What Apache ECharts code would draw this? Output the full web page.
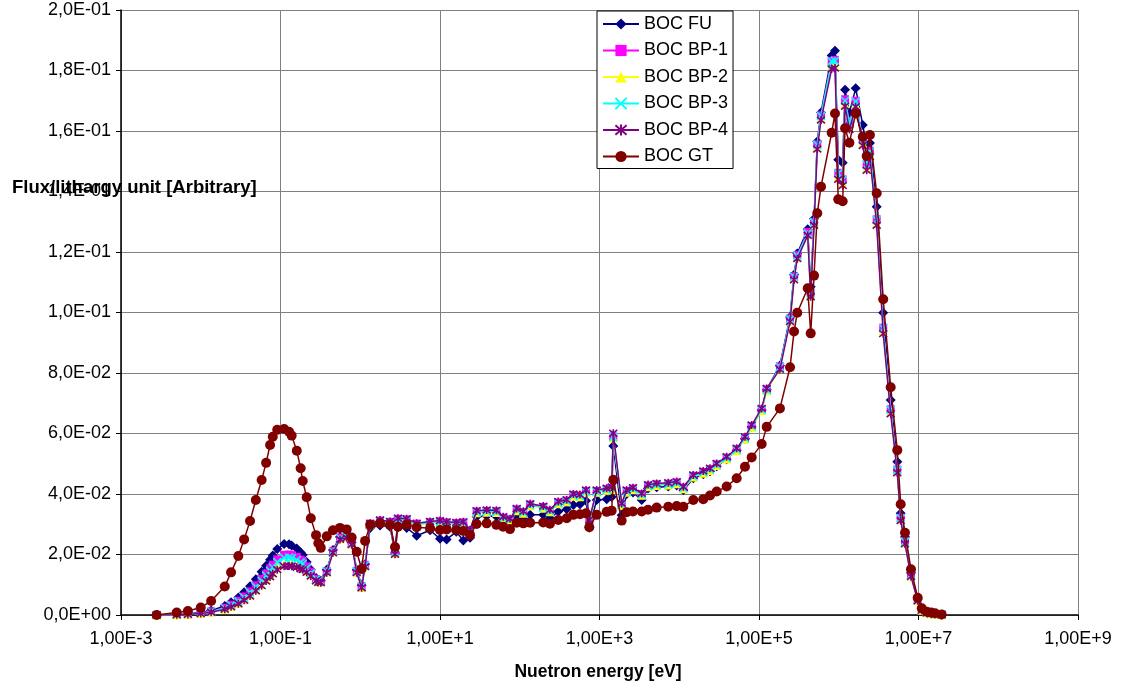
<!DOCTYPE html>
<html>
<head>
<meta charset="utf-8">
<script src="https://cdn.jsdelivr.net/npm/echarts@6/dist/echarts.min.js"></script>
<style>
html,body{margin:0;padding:0;background:#fff;}
#chart{width:1122px;height:688px;}
</style>
</head>
<body>
<div id="chart"></div>
<script>
// Neutron energy group points [eV]
const energy = [
  2.8e-3, 5.0e-3, 6.9e-3, 1.0e-2, 1.35e-2, 2.0e-2, 2.4e-2, 2.96e-2, 3.5e-2, 4.15e-2,
  4.9e-2, 5.8e-2, 6.6e-2, 7.4e-2, 8.0e-2, 9.1e-2, 0.111, 0.128, 0.138, 0.16,
  0.179, 0.19, 0.213, 0.24, 0.279, 0.298, 0.32, 0.38, 0.455, 0.557,
  0.676, 0.78, 0.903, 1.04, 1.15, 1.33, 1.77, 2.36, 2.73, 2.97,
  3.82, 5.1, 7.5, 10, 12.1, 16, 19.6, 23.8, 28.8, 38.5,
  51, 62, 75.5, 91.6, 111, 135, 197, 239, 304, 388,
  470, 569, 678, 745, 922, 1231, 1420, 1489, 1897, 2193,
  2630, 3380, 4060, 5210, 7290, 9290, 11250, 15000, 20000, 24300,
  29500, 39300, 52500, 66700, 80900, 108000, 125000, 183000, 245000, 275000,
  302000, 408000, 445000, 490000, 538000, 599000, 815000, 897000, 986000, 1.12e6,
  1.2e6, 1.36e6, 1.63e6, 2.0e6, 2.24e6, 2.46e6, 2.99e6, 3.61e6, 4.48e6, 5.42e6,
  5.98e6, 6.77e6, 8.05e6, 9.77e6, 1.1e7, 1.27e7, 1.44e7, 1.61e7, 1.95e7
];

const bocFU = [
  0.0000, 0.0002, 0.0004, 0.0008, 0.0015, 0.0030, 0.0042, 0.0058, 0.0075, 0.0095,
  0.0118, 0.0143, 0.0163, 0.0183, 0.0197, 0.0218, 0.0235, 0.0234, 0.0230, 0.0220,
  0.0207, 0.0198, 0.0175, 0.0150, 0.0122, 0.0114, 0.0113, 0.0150, 0.0215, 0.0258,
  0.0262, 0.0240, 0.0150, 0.0098, 0.0168, 0.0288, 0.0296, 0.0292, 0.0205, 0.0290,
  0.0288, 0.0262, 0.0280, 0.0252, 0.0250, 0.0275, 0.0246, 0.0255, 0.0325, 0.0327,
  0.0326, 0.0306, 0.0300, 0.0325, 0.0318, 0.0331, 0.0331, 0.0320, 0.0342, 0.0350,
  0.0364, 0.0366, 0.0378, 0.0289, 0.0380, 0.0383, 0.0390, 0.0559, 0.0330, 0.0400,
  0.0405, 0.0380, 0.0418, 0.0422, 0.0425, 0.0428, 0.0412, 0.0452, 0.0465, 0.0475,
  0.0492, 0.0515, 0.0545, 0.0583, 0.0622, 0.0678, 0.0745, 0.0825, 0.0985, 0.1125,
  0.1195, 0.1275, 0.1085, 0.1310, 0.1565, 0.1661, 0.1850, 0.1865, 0.1505, 0.1495,
  0.1736, 0.1660, 0.1741, 0.1620, 0.1545, 0.1560, 0.1350, 0.0999, 0.0711, 0.0507,
  0.0336, 0.0258, 0.0140, 0.0053, 0.0018, 0.0008, 0.0005, 0.0003, 0.0001
];

const bocBP1 = [
  0.0000, 0.0001, 0.0003, 0.0006, 0.0012, 0.0024, 0.0034, 0.0047, 0.0061, 0.0078,
  0.0098, 0.0119, 0.0137, 0.0154, 0.0166, 0.0184, 0.0199, 0.0200, 0.0198, 0.0192,
  0.0183, 0.0177, 0.0161, 0.0142, 0.0119, 0.0111, 0.0110, 0.0145, 0.0212, 0.0256,
  0.0260, 0.0238, 0.0146, 0.0095, 0.0166, 0.0302, 0.0312, 0.0308, 0.0210, 0.0318,
  0.0316, 0.0302, 0.0307, 0.0310, 0.0306, 0.0304, 0.0306, 0.0280, 0.0342, 0.0344,
  0.0343, 0.0322, 0.0316, 0.0349, 0.0340, 0.0365, 0.0357, 0.0345, 0.0372, 0.0378,
  0.0397, 0.0395, 0.0410, 0.0312, 0.0410, 0.0416, 0.0420, 0.0590, 0.0366, 0.0410,
  0.0418, 0.0400, 0.0428, 0.0432, 0.0434, 0.0438, 0.0421, 0.0460, 0.0473, 0.0482,
  0.0498, 0.0520, 0.0548, 0.0586, 0.0625, 0.0680, 0.0746, 0.0822, 0.0980, 0.1120,
  0.1190, 0.1266, 0.1066, 0.1300, 0.1556, 0.1652, 0.1832, 0.1835, 0.1462, 0.1440,
  0.1705, 0.1628, 0.1700, 0.1573, 0.1490, 0.1535, 0.1308, 0.0950, 0.0680, 0.0481,
  0.0322, 0.0244, 0.0133, 0.0050, 0.0017, 0.0008, 0.0005, 0.0003, 0.0001
];

const bocBP2 = [
  0.0000, 0.0001, 0.0002, 0.0005, 0.0010, 0.0020, 0.0028, 0.0039, 0.0051, 0.0066,
  0.0083, 0.0101, 0.0117, 0.0131, 0.0141, 0.0156, 0.0168, 0.0169, 0.0168, 0.0164,
  0.0159, 0.0155, 0.0145, 0.0132, 0.0115, 0.0109, 0.0108, 0.0142, 0.0208, 0.0252,
  0.0257, 0.0235, 0.0142, 0.0091, 0.0162, 0.0298, 0.0308, 0.0304, 0.0203, 0.0314,
  0.0312, 0.0298, 0.0303, 0.0306, 0.0302, 0.0300, 0.0302, 0.0276, 0.0338, 0.0340,
  0.0339, 0.0318, 0.0312, 0.0345, 0.0336, 0.0361, 0.0353, 0.0341, 0.0368, 0.0374,
  0.0393, 0.0391, 0.0406, 0.0308, 0.0406, 0.0412, 0.0416, 0.0585, 0.0362, 0.0406,
  0.0414, 0.0396, 0.0424, 0.0428, 0.0430, 0.0434, 0.0417, 0.0456, 0.0469, 0.0478,
  0.0494, 0.0516, 0.0544, 0.0582, 0.0621, 0.0676, 0.0742, 0.0815, 0.0972, 0.1112,
  0.1182, 0.1258, 0.1058, 0.1292, 0.1546, 0.1642, 0.1815, 0.1818, 0.1448, 0.1428,
  0.1690, 0.1615, 0.1688, 0.1560, 0.1478, 0.1522, 0.1295, 0.0940, 0.0672, 0.0475,
  0.0316, 0.0238, 0.0129, 0.0048, 0.0016, 0.0007, 0.0004, 0.0003, 0.0001
];

const bocBP3 = [
  0.0000, 0.0001, 0.0003, 0.0006, 0.0011, 0.0023, 0.0032, 0.0045, 0.0058, 0.0074,
  0.0093, 0.0113, 0.0130, 0.0146, 0.0157, 0.0175, 0.0189, 0.0190, 0.0188, 0.0182,
  0.0174, 0.0169, 0.0155, 0.0138, 0.0117, 0.0110, 0.0109, 0.0144, 0.0210, 0.0254,
  0.0259, 0.0237, 0.0144, 0.0093, 0.0164, 0.0300, 0.0310, 0.0306, 0.0207, 0.0316,
  0.0314, 0.0300, 0.0305, 0.0308, 0.0304, 0.0302, 0.0304, 0.0278, 0.0340, 0.0342,
  0.0341, 0.0320, 0.0314, 0.0347, 0.0338, 0.0363, 0.0355, 0.0343, 0.0370, 0.0376,
  0.0395, 0.0393, 0.0408, 0.0310, 0.0408, 0.0414, 0.0418, 0.0588, 0.0364, 0.0408,
  0.0416, 0.0398, 0.0426, 0.0430, 0.0432, 0.0436, 0.0419, 0.0458, 0.0471, 0.0480,
  0.0496, 0.0518, 0.0546, 0.0584, 0.0623, 0.0678, 0.0744, 0.0820, 0.0978, 0.1118,
  0.1188, 0.1262, 0.1063, 0.1298, 0.1554, 0.1650, 0.1830, 0.1832, 0.1460, 0.1438,
  0.1700, 0.1625, 0.1697, 0.1570, 0.1488, 0.1532, 0.1306, 0.0948, 0.0678, 0.0479,
  0.0320, 0.0242, 0.0132, 0.0050, 0.0017, 0.0008, 0.0005, 0.0003, 0.0001
];

const bocBP4 = [
  0.0000, 0.0001, 0.0002, 0.0005, 0.0009, 0.0019, 0.0027, 0.0037, 0.0049, 0.0063,
  0.0080, 0.0097, 0.0112, 0.0126, 0.0136, 0.0150, 0.0161, 0.0162, 0.0161, 0.0158,
  0.0153, 0.0150, 0.0141, 0.0129, 0.0113, 0.0108, 0.0107, 0.0140, 0.0206, 0.0250,
  0.0255, 0.0233, 0.0140, 0.0090, 0.0160, 0.0303, 0.0314, 0.0309, 0.0201, 0.0320,
  0.0318, 0.0303, 0.0309, 0.0312, 0.0308, 0.0306, 0.0308, 0.0282, 0.0345, 0.0347,
  0.0346, 0.0325, 0.0318, 0.0352, 0.0343, 0.0368, 0.0360, 0.0348, 0.0375, 0.0381,
  0.0400, 0.0398, 0.0413, 0.0314, 0.0413, 0.0419, 0.0423, 0.0601, 0.0369, 0.0413,
  0.0421, 0.0402, 0.0431, 0.0435, 0.0437, 0.0441, 0.0424, 0.0463, 0.0476, 0.0485,
  0.0501, 0.0523, 0.0551, 0.0589, 0.0628, 0.0683, 0.0749, 0.0812, 0.0970, 0.1108,
  0.1178, 0.1255, 0.1052, 0.1288, 0.1540, 0.1636, 0.1805, 0.1808, 0.1440, 0.1420,
  0.1682, 0.1605, 0.1680, 0.1552, 0.1470, 0.1515, 0.1288, 0.0930, 0.0665, 0.0470,
  0.0312, 0.0235, 0.0127, 0.0047, 0.0016, 0.0007, 0.0004, 0.0003, 0.0001
];

const bocGT = [
  0.0000, 0.0008, 0.0013, 0.0025, 0.0046, 0.0094, 0.0141, 0.0195, 0.0250, 0.0311,
  0.0380, 0.0446, 0.0503, 0.0562, 0.0589, 0.0612, 0.0615, 0.0606, 0.0593, 0.0543,
  0.0485, 0.0443, 0.0389, 0.0320, 0.0264, 0.0237, 0.0222, 0.0260, 0.0280, 0.0288,
  0.0283, 0.0256, 0.0209, 0.0152, 0.0245, 0.0298, 0.0303, 0.0298, 0.0225, 0.0292,
  0.0298, 0.0290, 0.0287, 0.0281, 0.0283, 0.0281, 0.0278, 0.0264, 0.0301, 0.0303,
  0.0298, 0.0292, 0.0284, 0.0305, 0.0303, 0.0305, 0.0306, 0.0302, 0.0314, 0.0320,
  0.0331, 0.0333, 0.0336, 0.0290, 0.0331, 0.0341, 0.0345, 0.0447, 0.0312, 0.0340,
  0.0342, 0.0342, 0.0348, 0.0355, 0.0358, 0.0360, 0.0358, 0.0380, 0.0383, 0.0395,
  0.0408, 0.0425, 0.0452, 0.0490, 0.0521, 0.0565, 0.0622, 0.0683, 0.0819, 0.0937,
  0.0999, 0.1080, 0.0931, 0.1122, 0.1328, 0.1416, 0.1594, 0.1658, 0.1374, 0.1368,
  0.1609, 0.1561, 0.1658, 0.1581, 0.1517, 0.1587, 0.1394, 0.1044, 0.0753, 0.0545,
  0.0366, 0.0272, 0.0151, 0.0057, 0.0022, 0.0011, 0.0008, 0.0006, 0.0002
];

const seriesNames = ['BOC FU', 'BOC BP-1', 'BOC BP-2', 'BOC BP-3', 'BOC BP-4', 'BOC GT'];
const seriesValues = [bocFU, bocBP1, bocBP2, bocBP3, bocBP4, bocGT];

const xAxisTitle = 'Nuetron energy [eV]';
const yAxisTitle = 'Flux/lithargy unit [Arbitrary]';

const FONT = 'Liberation Sans, Arial, sans-serif';

// styles
const styles = [
  {color: '#000080', symbol: 'diamond', size: 10, border: 0},
  {color: '#FF00FF', symbol: 'rect', size: 8, border: 0},
  {color: '#FFFF00', symbol: 'triangle', size: 9, border: 0},
  {color: '#00FFFF', symbol: 'path://M0,0L10,10M10,0L0,10', size: 8, border: 1.6},
  {color: '#800080', symbol: 'path://M0,0L10,10M10,0L0,10M5,-1L5,11', size: 8, border: 1.6},
  {color: '#800000', symbol: 'circle', size: 10, border: 0}
];

function yFmt(v) {
  if (Math.abs(v) < 1e-12) return '0,0E+00';
  const e = Math.floor(Math.log10(v) + 1e-9);
  const m = v / Math.pow(10, e);
  const es = (e < 0 ? '-' : '+') + String(Math.abs(e)).padStart(2, '0');
  return m.toFixed(1).replace('.', ',') + 'E' + es;
}
function xFmt(v) {
  const e = Math.round(v);
  return '1,00E' + (e < 0 ? '-' : '+') + Math.abs(e);
}

const series = seriesNames.map((name, i) => {
  const st = styles[i];
  return {
    name: name,
    type: 'line',
    data: energy.map((E, k) => [Math.log10(E), seriesValues[i][k]]),
    symbol: st.symbol,
    symbolSize: st.size,
    showAllSymbol: true,
    lineStyle: {color: st.color, width: 1.5},
    itemStyle: st.border ? {color: st.color, borderColor: st.color, borderWidth: st.border} : {color: st.color},
    emphasis: {disabled: true},
    z: 2 + i
  };
});

const chart = echarts.init(document.getElementById('chart'), null, {renderer: 'canvas'});
chart.setOption({
  animation: false,
  backgroundColor: '#ffffff',
  textStyle: {fontFamily: FONT},
  grid: {left: 121, right: 44, top: 10, bottom: 73, containLabel: false},
  xAxis: {
    type: 'value', min: -3, max: 9, interval: 2,
    axisLine: {onZero: false, lineStyle: {color: '#000', width: 1.5}},
    axisTick: {show: true, length: 5, lineStyle: {color: '#000'}},
    axisLabel: {formatter: xFmt, fontSize: 18, color: '#000', margin: 15, fontFamily: FONT},
    splitLine: {show: true, lineStyle: {color: '#808080', width: 1}}
  },
  yAxis: {
    type: 'value', min: 0, max: 0.2, interval: 0.02,
    axisLine: {show: true, onZero: false, lineStyle: {color: '#000', width: 1.5}},
    axisTick: {show: true, length: 5, lineStyle: {color: '#000'}},
    axisLabel: {formatter: yFmt, fontSize: 18, color: '#000', margin: 10, fontFamily: FONT},
    splitLine: {show: true, lineStyle: {color: '#808080', width: 1}}
  },
  legend: {
    data: seriesNames,
    orient: 'vertical',
    left: 597, top: 11,
    padding: [4, 5, 3, 5],
    itemWidth: 36, itemHeight: 14, itemGap: 8.5,
    backgroundColor: '#ffffff',
    borderColor: '#000', borderWidth: 1,
    textStyle: {fontSize: 18, color: '#000', fontFamily: FONT},
    selectedMode: false
  },
  graphic: [
    {type: 'text', left: 12, top: 178, z: 100,
      style: {text: yAxisTitle, fontSize: 18.5, fontWeight: 'bold', fill: '#000', fontFamily: FONT}},
    {type: 'text', x: 598, y: 672, z: 100,
      style: {text: xAxisTitle, fontSize: 17.5, fontWeight: 'bold', fill: '#000',
        align: 'center', verticalAlign: 'middle', fontFamily: FONT}}
  ],
  series: series
});
</script>
</body>
</html>
